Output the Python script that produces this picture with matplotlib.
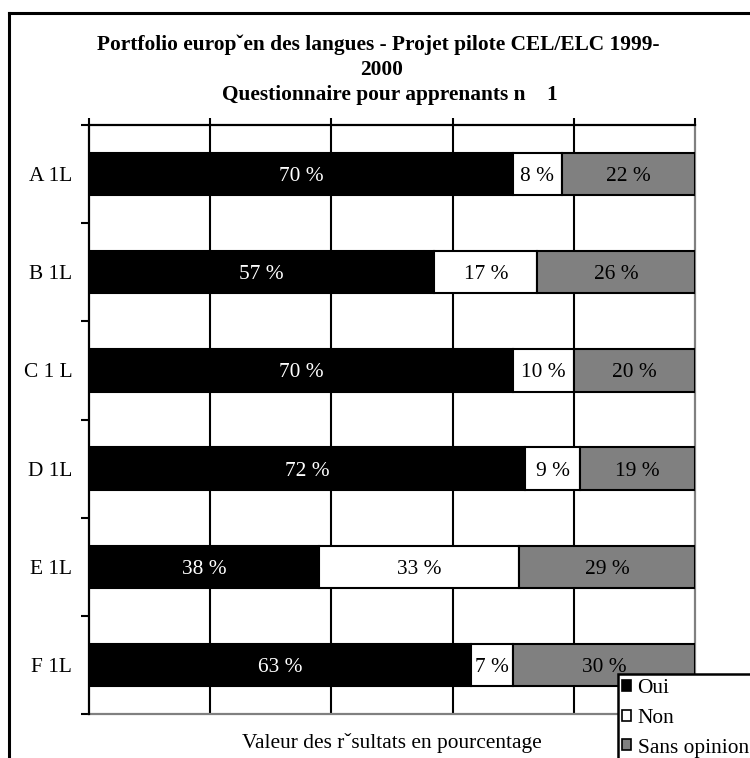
import matplotlib
matplotlib.use("Agg")
import matplotlib.pyplot as plt
from matplotlib.patches import Patch, Rectangle
from matplotlib.lines import Line2D
import numpy as np

plt.rcParams['font.family'] = ['Liberation Serif', 'DejaVu Serif']

categories = ["A 1L", "B 1L", "C 1 L", "D 1L", "E 1L", "F 1L"]
oui = [70, 57, 70, 72, 38, 63]
non = [8, 17, 10, 9, 33, 7]
sans_opinion = [22, 26, 20, 19, 29, 30]
series_names = ["Oui", "Non", "Sans opinion"]
series_colors = ["#000000", "#ffffff", "#808080"]
text_colors = ["white", "black", "black"]
x_ticks = [0, 20, 40, 60, 80, 100]

title_lines = ["Portfolio europˇen des langues - Projet pilote CEL/ELC 1999-",
               "2000",
               "Questionnaire pour apprenants n    1"]
xlabel = "Valeur des rˇsultats en pourcentage"

FS = 15.4

fig = plt.figure(figsize=(7.5, 7.58), dpi=100)
ax = fig.add_axes([89 / 750, 1 - 714 / 758, 606 / 750, 589 / 758])

y = np.arange(len(categories))
left = np.zeros(len(categories))
for vals, name, col, tcol in zip([oui, non, sans_opinion], series_names,
                                 series_colors, text_colors):
    vals = np.array(vals, dtype=float)
    ax.barh(y, vals, left=left, height=0.43, color=col, edgecolor="black",
            linewidth=1.5, zorder=3, label=name)
    for yi, l, v in zip(y, left, vals):
        ax.text(l + v / 2, yi, f"{int(v)} %", ha="center",
                va="center_baseline", color=tcol, fontsize=FS, zorder=4)
    left += vals

ax.set_xlim(0, 100)
ax.set_ylim(len(categories) - 0.5, -0.5)

# vertical gridlines every 20 %
for xv in x_ticks[1:-1]:
    ax.axvline(xv, color="black", linewidth=1.5, zorder=1)

# top ticks without labels
ax.xaxis.set_ticks_position("top")
ax.set_xticks(x_ticks)
ax.tick_params(axis="x", which="major", direction="out", length=5, width=1.5,
               labeltop=False, labelbottom=False, color="black")

# category labels at centres, tick marks at boundaries
ax.set_yticks(y)
ax.set_yticklabels(categories, fontsize=FS, va="center_baseline")
ax.tick_params(axis="y", which="major", length=0, pad=12)
ax.set_yticks(np.arange(-0.5, len(categories)), minor=True)
ax.tick_params(axis="y", which="minor", length=6, width=1.5, color="black")

for side, col in [("top", "black"), ("left", "black"),
                  ("right", "#808080"), ("bottom", "#808080")]:
    ax.spines[side].set_color(col)
    ax.spines[side].set_linewidth(1.6)
ax.spines["top"].set_zorder(5)
ax.spines["left"].set_zorder(5)

fig.text(392 / 750, 1 - 743 / 758, xlabel, ha="center", va="center",
         fontsize=FS)

# three-line bold title
for line, cx, cy in zip(title_lines, [378, 382, 390], [45, 70, 95]):
    fig.text(cx / 750, 1 - cy / 758, line, ha="center", va="center",
             fontsize=15.4, fontweight="bold")

# outer frame (left and top edges)
fig.add_artist(Line2D([9 / 750, 9 / 750], [1 - 13 / 758, -0.05],
                      transform=fig.transFigure, color="black", linewidth=2.2))
fig.add_artist(Line2D([9 / 750, 1.05], [1 - 13 / 758, 1 - 13 / 758],
                      transform=fig.transFigure, color="black", linewidth=2.2))

# legend box
fig.add_artist(Rectangle((618 / 750, -0.05), 0.3, 1 - 674 / 758 + 0.05,
                         transform=fig.transFigure, facecolor="white",
                         edgecolor="black", linewidth=1.8, zorder=10))
handles = [Patch(facecolor=c, edgecolor="black", linewidth=1.2)
           for c in series_colors]
leg = fig.legend(handles, series_names, loc="upper left",
                 bbox_to_anchor=(620 / 750, 1 - 677 / 758), frameon=False,
                 fontsize=FS, handlelength=0.42, handleheight=0.42,
                 handletextpad=0.3, labelspacing=0.5, borderpad=0.1,
                 borderaxespad=0)
leg.set_zorder(11)

fig.savefig("out.png", dpi=100)
